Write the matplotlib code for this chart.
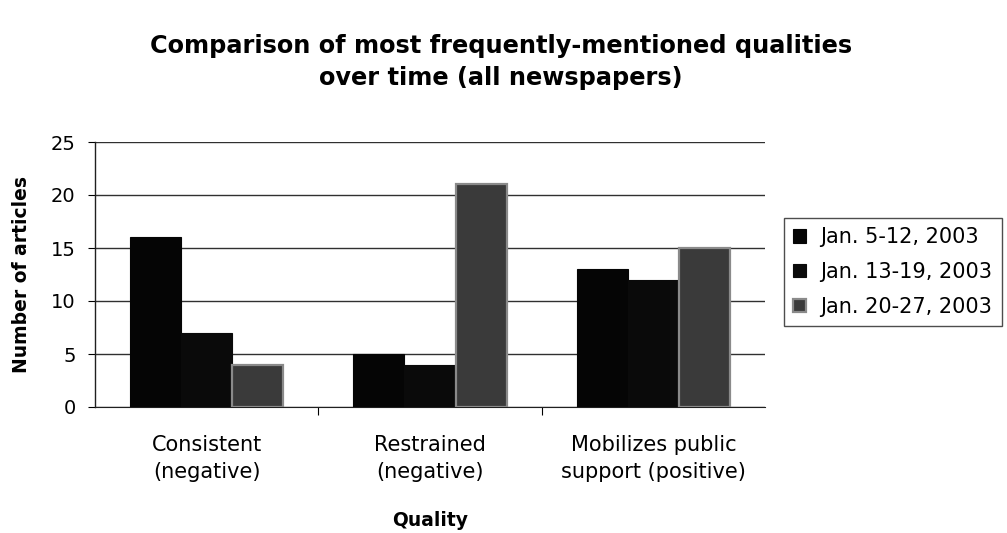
import matplotlib
matplotlib.use("Agg")
import matplotlib.pyplot as plt
import numpy as np

plt.rcParams['font.family'] = ['DejaVu Sans']

categories = ["Consistent\n(negative)", "Restrained\n(negative)", "Mobilizes public\nsupport (positive)"]
series_names = ["Jan. 5-12, 2003", "Jan. 13-19, 2003", "Jan. 20-27, 2003"]
jan_5_12 = [16, 5, 13]
jan_13_19 = [7, 4, 12]
jan_20_27 = [4, 21, 15]
y_ticks = [0, 5, 10, 15, 20, 25]

fig = plt.figure(figsize=(10.07, 5.33), dpi=100)
ax = fig.add_axes([95/1007, 1-407/533, (765-95)/1007, (407-142)/533])

x = np.arange(len(categories))
w = 0.229
styles = [dict(color='#050505', edgecolor='#050505', linewidth=0.8),
          dict(color='#0a0a0a', edgecolor='#0a0a0a', linewidth=0.8),
          dict(color='#3a3a3a', edgecolor='#8a8a8a', linewidth=1.6)]
series = [jan_5_12, jan_13_19, jan_20_27]
for i, (vals, name, st) in enumerate(zip(series, series_names, styles)):
    ax.bar(x + (i - 1) * w, vals, w, label=name, zorder=3, **st)

ax.set_xlim(-0.5, 2.5)
ax.set_ylim(0, 25)
ax.set_yticks(y_ticks)
ax.yaxis.grid(True, color='#303030', linewidth=1.0, zorder=0)
ax.set_axisbelow(True)
for s in ['top', 'right']:
    ax.spines[s].set_visible(False)
ax.spines['left'].set_color('#202020')
ax.spines['bottom'].set_color('#202020')
ax.spines['left'].set_linewidth(1.0)

ax.set_xticks([0.5, 1.5])
ax.set_xticklabels([])
ax.set_xticks(x, minor=True)
ax.set_xticklabels(categories, minor=True, fontsize=15, linespacing=1.45)
ax.tick_params(axis='x', which='minor', length=0, pad=20)
ax.tick_params(axis='x', which='major', length=6, direction='out')
ax.tick_params(axis='y', length=5, direction='out', labelsize=14, pad=9)

ax.set_ylabel("Number of articles", fontsize=13.5, fontweight='bold', labelpad=14)
ax.set_xlabel("Quality", fontsize=13.5, fontweight='bold', labelpad=21)

fig.suptitle("Comparison of most frequently-mentioned qualities\nover time (all newspapers)",
             x=501/1007, y=1-34/533, fontsize=17.3, fontweight='bold', linespacing=1.4, va='top')

leg = ax.legend(loc='center left', bbox_to_anchor=(784/1007, 1-272/533), bbox_transform=fig.transFigure,
                fontsize=15, frameon=True, fancybox=False, edgecolor='#202020',
                handlelength=0.6, handleheight=0.6, handletextpad=0.7, labelspacing=0.7,
                borderpad=0.45, borderaxespad=0)
leg.get_frame().set_linewidth(1.0)

fig.savefig("out.png", dpi=100)
